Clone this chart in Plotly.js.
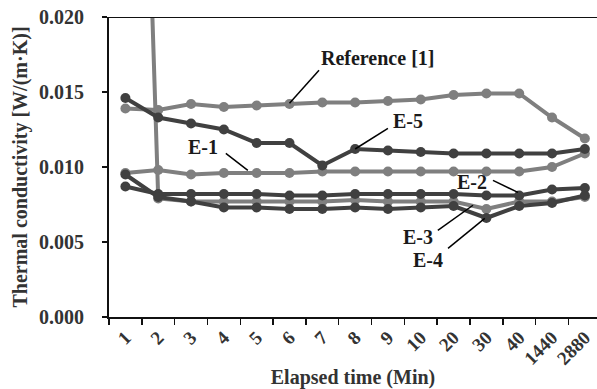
<!DOCTYPE html>
<html>
<head>
<meta charset="utf-8">
<script src="https://cdn.plot.ly/plotly-3.0.1.min.js"></script>
<style>html,body{margin:0;padding:0;background:#fff;}#chart{width:597px;height:389px;}</style>
</head>
<body>
<div id="chart"></div>
<script>
const categories = ["1","2","3","4","5","6","7","8","9","10","20","30","40","1440","2880"];
const reference1 = [0.0139,0.0138,0.0142,0.0140,0.0141,0.0142,0.0143,0.0143,0.0144,0.0145,0.0148,0.0149,0.0149,0.0133,0.0119];
const e1 = [0.0096,0.0098,0.0095,0.0096,0.0096,0.0096,0.0097,0.0097,0.0097,0.0097,0.0097,0.0097,0.0097,0.0100,0.0109];
const e3 = [0.0760,0.0079,0.0077,0.0077,0.0077,0.0077,0.0077,0.0078,0.0077,0.0077,0.0077,0.0072,0.0077,0.0077,0.0080];
const e2 = [0.0087,0.0082,0.0082,0.0082,0.0082,0.0081,0.0081,0.0082,0.0082,0.0082,0.0082,0.0081,0.0081,0.0085,0.0086];
const e4 = [0.0095,0.0080,0.0077,0.0073,0.0073,0.0072,0.0072,0.0073,0.0072,0.0073,0.0074,0.0066,0.0074,0.0076,0.0081];
const e5 = [0.0146,0.0133,0.0129,0.0125,0.0116,0.0116,0.0101,0.0112,0.0111,0.0110,0.0109,0.0109,0.0109,0.0109,0.0112];
const yTicks = [0, 0.005, 0.010, 0.015, 0.020];

const GRAY = "#7f7f7f", DARK = "#404040";
const FONT = "Liberation Serif, Times New Roman, serif";

function tr(name, y, color){
  return {type:"scatter", mode:"lines+markers", name:name, x:categories, y:y,
    line:{color:color, width:4}, marker:{color:color, size:10}, cliponaxis:true};
}
const data = [
  tr("Reference [1]", reference1, GRAY),
  tr("E-1", e1, GRAY),
  tr("E-3", e3, GRAY),
  tr("E-2", e2, DARK),
  tr("E-4", e4, DARK),
  tr("E-5", e5, DARK)
];

const labels = [
  {text:"Reference [1]", tx:7.69, ty:0.0173, x0:5.9, y0:0.01645, x1:5.0, y1:0.01425},
  {text:"E-5", tx:8.61, ty:0.01305, x0:8.0, y0:0.01258, x1:7.0, y1:0.0112},
  {text:"E-1", tx:2.36, ty:0.01131, x0:3.06, y0:0.01091, x1:3.73, y1:0.00978},
  {text:"E-2", tx:10.56, ty:0.00898, x0:11.2, y0:0.00911, x1:11.96, y1:0.00831},
  {text:"E-3", tx:8.91, ty:0.00531, x0:9.52, y0:0.00578, x1:10.59, y1:0.00745},
  {text:"E-4", tx:9.22, ty:0.00378, x0:9.83, y0:0.00458, x1:10.95, y1:0.00658}
];

const annotations = labels.map(l => ({x:l.tx, y:l.ty, xref:"x", yref:"y", text:"<b>"+l.text+"</b>",
  showarrow:false, font:{family:FONT, size:20, color:"#1a1a1a"}}));
const shapes = labels.map(l => ({type:"line", xref:"x", yref:"y", x0:l.x0, y0:l.y0, x1:l.x1, y1:l.y1,
  line:{color:"#000", width:1.5}}));
shapes.push({type:"line", xref:"paper", yref:"y", x0:0, x1:1, y0:0.020, y1:0.020, line:{color:"#111", width:2}});

const layout = {
  width:597, height:389,
  margin:{l:109, r:0, t:17, b:72, pad:0},
  paper_bgcolor:"#fff", plot_bgcolor:"#fff",
  showlegend:false,
  font:{family:FONT, color:"#333"},
  xaxis:{type:"category", categoryorder:"array", categoryarray:categories, range:[-0.5,14.37],
    automargin:false,
    showgrid:false, zeroline:false, showline:true, linecolor:"#111", linewidth:2,
    ticks:"outside", ticklen:6, tickwidth:1.5, tickcolor:"#111", tickson:"boundaries",
    tickangle:-45, tickfont:{family:FONT, size:19, color:"#333", weight:"bold"},
    title:{text:"<b>Elapsed time (Min)</b>", font:{family:FONT, size:20, color:"#333"}, standoff:2}},
  yaxis:{range:[0,0.020], tickvals:yTicks, tickformat:".3f", automargin:false,
    showgrid:false, zeroline:false, showline:true, linecolor:"#111", linewidth:2,
    ticks:"outside", ticklen:5, tickwidth:1.5, tickcolor:"#111", ticklabelstandoff:14,
    tickfont:{family:FONT, size:20, color:"#333", weight:"bold"},
    title:{text:"<b>Thermal conductivity [W/(m·K)]</b>", font:{family:FONT, size:20, color:"#333"}, standoff:6}},
  annotations:annotations,
  shapes:shapes
};

Plotly.newPlot("chart", data, layout, {staticPlot:true, displayModeBar:false});
</script>
</body>
</html>
